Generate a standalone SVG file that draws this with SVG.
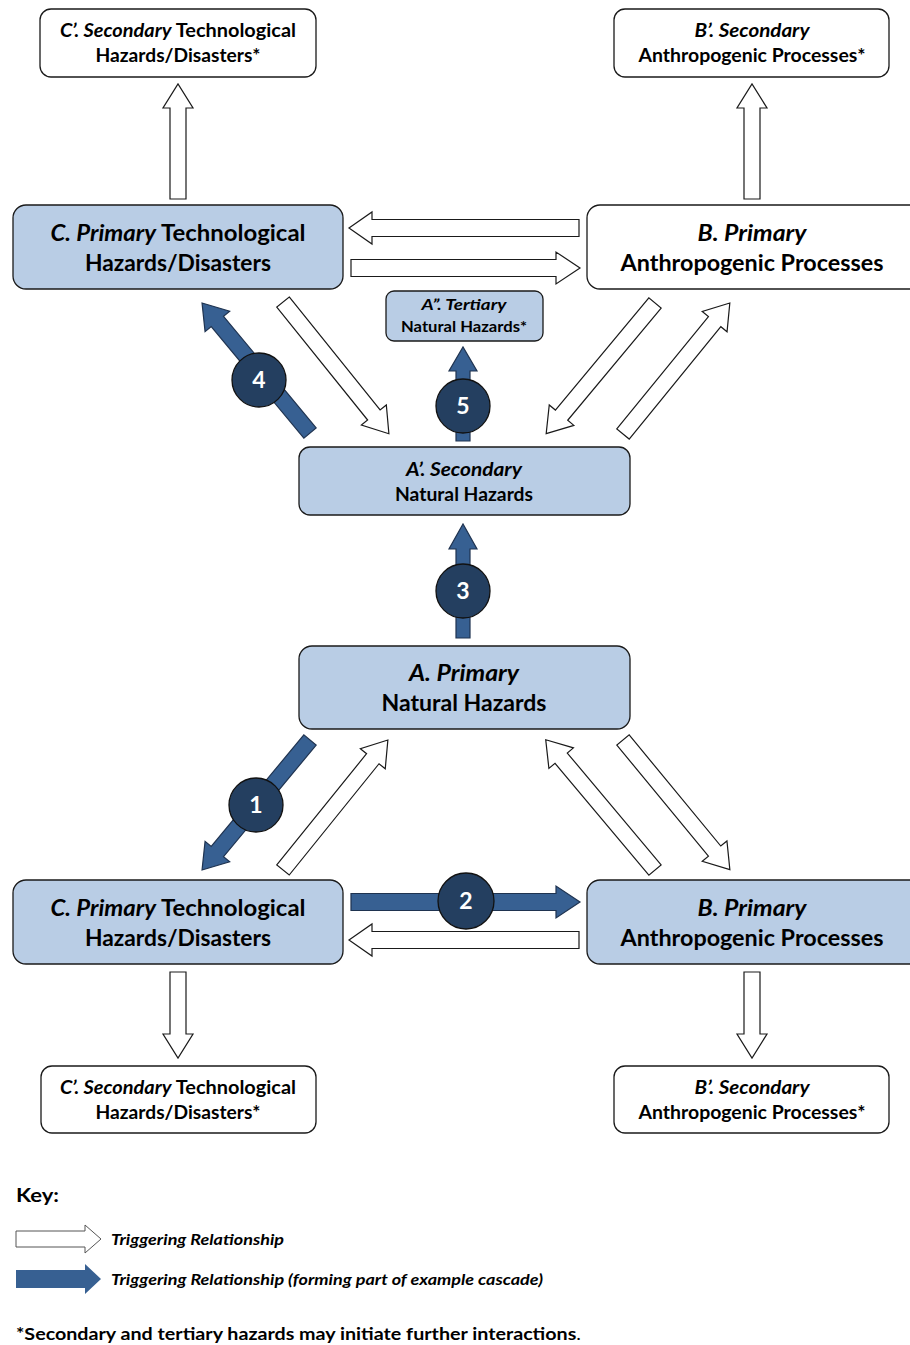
<svg xmlns="http://www.w3.org/2000/svg" width="910" height="1345" viewBox="0 0 910 1345">
<style>
text{font-family:Lato,"Open Sans","Liberation Sans",sans-serif;font-weight:bold;fill:#000;text-anchor:middle}
.i{font-style:italic}
.box{stroke:#1a1a1a;stroke-width:1.3}
.blue{fill:#b9cde5}
.white{fill:#fff}
.wa{fill:#fff;stroke:#1a1a1a;stroke-width:1.2}
.ba{fill:#376092;stroke:#1f3350;stroke-width:1.2}
.num{fill:#243f60;stroke:#111;stroke-width:1.3}
.nt{fill:#fff;font-size:23px}
.big{font-size:22px}
.med{font-size:18px}
.sm{font-size:15px}
.key{text-anchor:start;font-size:15px}
</style>
<g id="connectors">
<path class="wa" transform="translate(178,199) rotate(-90)" d="M0,-8 H91 V-15 L115,0 L91,15 V8 H0 Z"/>
<path class="wa" transform="translate(752,199) rotate(-90)" d="M0,-8 H91 V-15 L115,0 L91,15 V8 H0 Z"/>
<path class="wa" transform="translate(579,228) rotate(180)" d="M0,-8.5 H207 V-16 L230,0 L207,16 V8.5 H0 Z"/>
<path class="wa" transform="translate(351,268) rotate(0)" d="M0,-8.5 H205 V-16 L229,0 L205,16 V8.5 H0 Z"/>
<path class="wa" transform="translate(283,302) rotate(51.2)" d="M0,-8 H145 V-16 L169,0 L145,16 V8 H0 Z"/>
<path class="ba" transform="translate(310,433) rotate(-129.7)" d="M0,-8 H145 V-16 L169,0 L145,16 V8 H0 Z"/>
<path class="wa" transform="translate(655,303) rotate(129.8)" d="M0,-8 H146 V-16 L170,0 L146,16 V8 H0 Z"/>
<path class="wa" transform="translate(623,434) rotate(-50.8)" d="M0,-8 H145 V-16 L169,0 L145,16 V8 H0 Z"/>
<path class="ba" transform="translate(463,441) rotate(-90)" d="M0,-7 H70 V-14 L94,0 L70,14 V7 H0 Z"/>
<path class="ba" transform="translate(463,638) rotate(-90)" d="M0,-7 H89 V-14 L114,0 L89,14 V7 H0 Z"/>
<path class="ba" transform="translate(310,740) rotate(129.7)" d="M0,-8 H145 V-16 L169,0 L145,16 V8 H0 Z"/>
<path class="wa" transform="translate(283,870) rotate(-51.1)" d="M0,-8 H143 V-16 L167,0 L143,16 V8 H0 Z"/>
<path class="wa" transform="translate(655,870) rotate(-130)" d="M0,-8 H146 V-16 L170,0 L146,16 V8 H0 Z"/>
<path class="wa" transform="translate(623,740) rotate(50.5)" d="M0,-8 H144 V-16 L168,0 L144,16 V8 H0 Z"/>
<path class="ba" transform="translate(351,902) rotate(0)" d="M0,-8.5 H205 V-16 L229,0 L205,16 V8.5 H0 Z"/>
<path class="wa" transform="translate(579,940) rotate(180)" d="M0,-8.5 H207 V-16 L230,0 L207,16 V8.5 H0 Z"/>
<path class="wa" transform="translate(178,972) rotate(90)" d="M0,-8 H62 V-15 L86,0 L62,15 V8 H0 Z"/>
<path class="wa" transform="translate(752,972) rotate(90)" d="M0,-8 H62 V-15 L86,0 L62,15 V8 H0 Z"/>
<circle class="num" cx="259" cy="380" r="27"/><text class="nt" x="259" y="388">4</text>
<circle class="num" cx="463" cy="406" r="27"/><text class="nt" x="463" y="414">5</text>
<circle class="num" cx="463" cy="591" r="27"/><text class="nt" x="463" y="599">3</text>
<circle class="num" cx="256" cy="805" r="27"/><text class="nt" x="256" y="813">1</text>
<circle class="num" cx="466" cy="901" r="28"/><text class="nt" x="466" y="909">2</text>
</g>
<g id="nodeCsecTop">
<rect class="box white" x="40" y="9" width="276" height="68" rx="11"/>
<text class="med" x="178" y="37" textLength="236" lengthAdjust="spacingAndGlyphs"><tspan class="i">C’. Secondary</tspan> Technological</text>
<text class="med" x="178" y="62" textLength="165" lengthAdjust="spacingAndGlyphs">Hazards/Disasters*</text>
</g>
<g id="nodeBsecTop">
<rect class="box white" x="614" y="9" width="275" height="68" rx="11"/>
<text class="med i" x="752" y="37" textLength="115" lengthAdjust="spacingAndGlyphs">B’. Secondary</text>
<text class="med" x="752" y="62" textLength="227" lengthAdjust="spacingAndGlyphs">Anthropogenic Processes*</text>
</g>
<g id="nodeCTop">
<rect class="box blue" x="13" y="205" width="330" height="84" rx="13"/>
<text class="big" x="178" y="241" textLength="255" lengthAdjust="spacingAndGlyphs"><tspan class="i">C. Primary</tspan> Technological</text>
<text class="big" x="178" y="271" textLength="186" lengthAdjust="spacingAndGlyphs">Hazards/Disasters</text>
</g>
<g id="nodeBTop">
<rect class="box white" x="587" y="205" width="340" height="84" rx="13"/>
<text class="big i" x="752" y="241" textLength="109" lengthAdjust="spacingAndGlyphs">B. Primary</text>
<text class="big" x="752" y="271" textLength="263" lengthAdjust="spacingAndGlyphs">Anthropogenic Processes</text>
</g>
<g id="nodeAtert">
<rect class="box blue" x="386" y="291" width="157" height="50" rx="8"/>
<text class="sm i" x="464" y="310" textLength="85" lengthAdjust="spacingAndGlyphs">A”. Tertiary</text>
<text class="sm" x="464" y="332" textLength="126" lengthAdjust="spacingAndGlyphs">Natural Hazards*</text>
</g>
<g id="nodeAsec">
<rect class="box blue" x="299" y="447" width="331" height="68" rx="11"/>
<text class="med i" x="464" y="476" textLength="116" lengthAdjust="spacingAndGlyphs">A’. Secondary</text>
<text class="med" x="464" y="501" textLength="138" lengthAdjust="spacingAndGlyphs">Natural Hazards</text>
</g>
<g id="nodeA">
<rect class="box blue" x="299" y="646" width="331" height="83" rx="13"/>
<text class="big i" x="464" y="681" textLength="110" lengthAdjust="spacingAndGlyphs">A. Primary</text>
<text class="big" x="464" y="711" textLength="165" lengthAdjust="spacingAndGlyphs">Natural Hazards</text>
</g>
<g id="nodeCBottom">
<rect class="box blue" x="13" y="880" width="330" height="84" rx="13"/>
<text class="big" x="178" y="916" textLength="255" lengthAdjust="spacingAndGlyphs"><tspan class="i">C. Primary</tspan> Technological</text>
<text class="big" x="178" y="946" textLength="186" lengthAdjust="spacingAndGlyphs">Hazards/Disasters</text>
</g>
<g id="nodeBBottom">
<rect class="box blue" x="587" y="880" width="340" height="84" rx="13"/>
<text class="big i" x="752" y="916" textLength="109" lengthAdjust="spacingAndGlyphs">B. Primary</text>
<text class="big" x="752" y="946" textLength="263" lengthAdjust="spacingAndGlyphs">Anthropogenic Processes</text>
</g>
<g id="nodeCsecBottom">
<rect class="box white" x="41" y="1066" width="275" height="67" rx="11"/>
<text class="med" x="178" y="1094" textLength="236" lengthAdjust="spacingAndGlyphs"><tspan class="i">C’. Secondary</tspan> Technological</text>
<text class="med" x="178" y="1119" textLength="165" lengthAdjust="spacingAndGlyphs">Hazards/Disasters*</text>
</g>
<g id="nodeBsecBottom">
<rect class="box white" x="614" y="1066" width="275" height="67" rx="11"/>
<text class="med i" x="752" y="1094" textLength="115" lengthAdjust="spacingAndGlyphs">B’. Secondary</text>
<text class="med" x="752" y="1119" textLength="227" lengthAdjust="spacingAndGlyphs">Anthropogenic Processes*</text>
</g>
<g id="legend">
<text x="16" y="1202" style="text-anchor:start;font-size:19px" textLength="43" lengthAdjust="spacingAndGlyphs">Key:</text>
<path class="wa" transform="translate(16,1239)" d="M0,-8 H69 V-14 L85,0 L69,14 V8 H0 Z" style="stroke:#555;stroke-width:1"/>
<text class="key i" x="111" y="1245" textLength="173" lengthAdjust="spacingAndGlyphs">Triggering Relationship</text>
<path class="ba" transform="translate(16,1279)" d="M0,-9 H69 V-15 L85,0 L69,15 V9 H0 Z" style="stroke:none"/>
<text class="key i" x="111" y="1285" textLength="432" lengthAdjust="spacingAndGlyphs">Triggering Relationship (forming part of example cascade)</text>
<text x="16" y="1340" style="text-anchor:start;font-size:17.5px" textLength="565" lengthAdjust="spacingAndGlyphs">*Secondary and tertiary hazards may initiate further interactions<tspan style="font-weight:normal">.</tspan></text>
</g>
</svg>
